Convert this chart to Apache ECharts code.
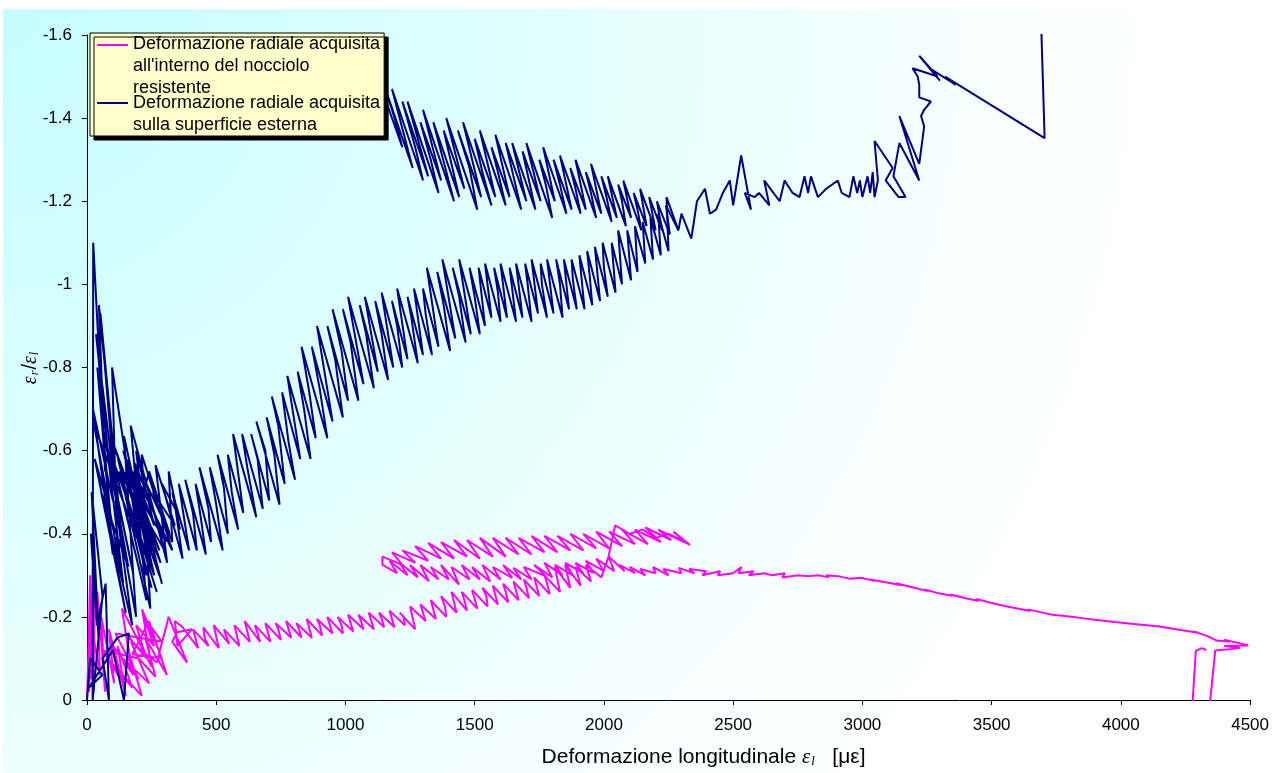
<!DOCTYPE html>
<html>
<head>
<meta charset="utf-8">
<script src="https://cdn.jsdelivr.net/npm/echarts@6/dist/echarts.min.js"></script>
<style>
html, body { margin: 0; padding: 0; background: #fff; }
#main { width: 1272px; height: 773px; }
</style>
</head>
<body>
<div id="main"></div>
<script>
// deformazione radiale interna (magenta)
const magentaStart = [
    [0, 0], [5, -0.10], [12, -0.30], [8, -0.02], [23, -0.325], [15, -0.05], [30, -0.28], [25, -0.02],
    [18, -0.18], [50, -0.06], [40, -0.26], [70, -0.02], [55, -0.20], [105, -0.04], [85, -0.17],
    [150, -0.01], [118, -0.13], [175, -0.03], [95, -0.09], [212, -0.01], [160, -0.12], [135, -0.22],
    [250, -0.08], [213, -0.218], [290, -0.10], [175, -0.11], [240, -0.19], [309, -0.06], [225, -0.15],
    [265, -0.056], [200, -0.10], [60, -0.12], [130, -0.05], [90, -0.14], [180, -0.06], [150, -0.16],
    [230, -0.10], [190, -0.18], [260, -0.13], [220, -0.20], [290, -0.14], [110, -0.16], [200, -0.05],
    [140, -0.10], [240, -0.04], [170, -0.14], [270, -0.09], [316, -0.20], [387, -0.09], [330, -0.14],
    [348, -0.163], [406, -0.17], [350, -0.13], [340, -0.19]
];
const magentaLow = [
    [370, -0.175], [430, -0.125], [410, -0.17], [470, -0.13], [455, -0.15], [450, -0.175], [510, -0.125],
    [490, -0.18], [550, -0.135], [535, -0.16], [530, -0.17], [590, -0.13], [570, -0.18], [630, -0.14],
    [610, -0.19], [670, -0.14], [660, -0.16], [650, -0.18], [710, -0.14], [690, -0.185], [750, -0.145],
    [740, -0.17], [730, -0.185], [790, -0.15], [770, -0.19], [830, -0.15], [820, -0.17], [810, -0.185],
    [870, -0.15], [850, -0.195], [910, -0.155], [900, -0.18], [890, -0.195], [950, -0.16], [930, -0.20],
    [990, -0.16], [985, -0.18], [970, -0.20], [1030, -0.165], [1010, -0.205], [1070, -0.17],
    [1060, -0.19], [1050, -0.205], [1110, -0.17], [1090, -0.21], [1150, -0.175], [1140, -0.195],
    [1130, -0.21], [1190, -0.175], [1170, -0.215], [1230, -0.18], [1225, -0.20], [1210, -0.21],
    [1270, -0.17], [1250, -0.225], [1310, -0.19], [1300, -0.21], [1290, -0.23], [1350, -0.195],
    [1330, -0.24], [1390, -0.20], [1385, -0.225], [1370, -0.25], [1430, -0.21], [1410, -0.26],
    [1470, -0.215], [1460, -0.24], [1450, -0.26], [1510, -0.22], [1490, -0.265], [1550, -0.225],
    [1545, -0.25], [1530, -0.27], [1590, -0.23], [1570, -0.275], [1630, -0.235], [1620, -0.26],
    [1610, -0.28], [1670, -0.24], [1650, -0.285], [1710, -0.245], [1700, -0.27], [1690, -0.29],
    [1750, -0.25], [1730, -0.295], [1790, -0.255], [1780, -0.28], [1770, -0.30], [1830, -0.26],
    [1810, -0.32], [1870, -0.27], [1850, -0.325], [1910, -0.275], [1890, -0.32], [1950, -0.285],
    [1930, -0.325], [1990, -0.295]
];
const magentaTop = [
    [2018, -0.345], [2043, -0.42], [2100, -0.40], [2150, -0.41], [2200, -0.39], [2250, -0.40],
    [2333, -0.373], [2270, -0.405], [2310, -0.38], [2210, -0.41], [2260, -0.385], [2160, -0.415],
    [2220, -0.38], [2120, -0.41], [2170, -0.375], [2070, -0.41], [2120, -0.375], [2020, -0.405],
    [2070, -0.37], [1970, -0.405], [2020, -0.365], [1920, -0.40], [1970, -0.365], [1870, -0.40],
    [1920, -0.36], [1820, -0.395], [1870, -0.36], [1770, -0.395], [1820, -0.355], [1720, -0.395],
    [1770, -0.355], [1670, -0.39], [1720, -0.35], [1620, -0.39], [1670, -0.35], [1570, -0.39],
    [1620, -0.345], [1520, -0.39], [1570, -0.345], [1470, -0.385], [1520, -0.34], [1420, -0.385],
    [1470, -0.345], [1370, -0.38], [1420, -0.34], [1320, -0.378], [1370, -0.34], [1270, -0.37],
    [1320, -0.335], [1220, -0.36], [1270, -0.33], [1180, -0.355], [1220, -0.325], [1143, -0.345]
];
const magentaMid = [
    [1143, -0.325], [1200, -0.305], [1170, -0.335], [1240, -0.30], [1210, -0.33], [1280, -0.295],
    [1250, -0.325], [1323, -0.286], [1290, -0.325], [1360, -0.29], [1330, -0.32], [1400, -0.29],
    [1370, -0.325], [1439, -0.278], [1410, -0.32], [1480, -0.29], [1450, -0.325], [1520, -0.29],
    [1490, -0.32], [1560, -0.285], [1530, -0.325], [1600, -0.29], [1570, -0.32], [1645, -0.294],
    [1610, -0.325], [1680, -0.29], [1650, -0.318], [1720, -0.29], [1690, -0.32], [1774, -0.298],
    [1730, -0.325], [1800, -0.295], [1770, -0.33], [1840, -0.30], [1810, -0.325], [1880, -0.30],
    [1850, -0.33], [1920, -0.305], [1890, -0.33], [1960, -0.305], [1930, -0.335], [2000, -0.31],
    [1970, -0.34], [2040, -0.31], [2018, -0.345], [2080, -0.31], [2060, -0.325], [2120, -0.305],
    [2100, -0.32], [2160, -0.30], [2140, -0.315], [2200, -0.305], [2190, -0.32], [2250, -0.30],
    [2230, -0.315], [2300, -0.305], [2290, -0.318], [2350, -0.305], [2330, -0.315], [2396, -0.31],
    [2380, -0.30], [2450, -0.31], [2440, -0.30], [2500, -0.305], [2532, -0.32], [2520, -0.305],
    [2580, -0.31], [2560, -0.30], [2620, -0.305], [2650, -0.30], [2700, -0.305], [2690, -0.295],
    [2750, -0.30], [2790, -0.298], [2828, -0.30], [2870, -0.295], [2860, -0.30], [2905, -0.298],
    [2950, -0.292], [2995, -0.294], [3050, -0.286], [3030, -0.29], [3100, -0.282], [3150, -0.276],
    [3130, -0.281], [3200, -0.27], [3252, -0.262], [3240, -0.266], [3300, -0.256], [3350, -0.25],
    [3340, -0.254], [3400, -0.245], [3450, -0.238], [3440, -0.243], [3497, -0.234], [3550, -0.226],
    [3600, -0.22], [3650, -0.214], [3640, -0.218], [3728, -0.206], [3800, -0.201], [3850, -0.197],
    [3900, -0.193], [3985, -0.187], [4050, -0.183], [4100, -0.18], [4150, -0.177], [4243, -0.167],
    [4300, -0.162], [4280, -0.165], [4330, -0.155], [4371, -0.143], [4420, -0.14], [4400, -0.145],
    [4470, -0.135], [4493, -0.131], [4400, -0.13], [4460, -0.125], [4435, -0.123], [4365, -0.119],
    [4341, 0.03], [4275, 0.03], [4290, -0.118], [4313, -0.125], [4330, -0.12]
];

// deformazione radiale superficie esterna (blu)
const navyStart = [
    [0, 0], [12, -0.10], [60, -0.06], [8, -0.03], [100, -0.12], [143, 0], [162, -0.16], [118, -0.15],
    [60, -0.10], [85, 0], [72, -0.28], [38, -0.18], [15, -0.40], [45, -0.15], [18, -0.50], [60, -0.25],
    [22, 0], [24, -1.10], [70, -0.55], [46, -0.95], [130, -0.42], [52, -0.93], [110, -0.50],
    [35, -0.88], [100, -0.48], [23, -0.70], [100, -0.35], [40, -0.80], [90, -0.45], [30, -0.58],
    [120, -0.30], [97, -0.80], [200, -0.38], [28, -0.66], [140, -0.28], [75, -0.62], [180, -0.30],
    [60, -0.66], [160, -0.32], [55, -0.50], [150, -0.21], [80, -0.44], [175, -0.18], [110, -0.48],
    [190, -0.20], [143, -0.635], [260, -0.30], [105, -0.57], [230, -0.24], [169, -0.66], [300, -0.36],
    [125, -0.55], [270, -0.26], [150, -0.50], [250, -0.27], [135, -0.53], [245, -0.22], [212, -0.59],
    [330, -0.36], [180, -0.55], [290, -0.28], [160, -0.58], [240, -0.33], [190, -0.60], [260, -0.42],
    [200, -0.52], [280, -0.30], [120, -0.58], [230, -0.30], [175, -0.50], [285, -0.33], [140, -0.60],
    [250, -0.35], [185, -0.57], [305, -0.38], [210, -0.48], [280, -0.36], [150, -0.55], [220, -0.40],
    [100, -0.62], [200, -0.45], [240, -0.55], [320, -0.40], [230, -0.52], [310, -0.33],
    [265, -0.565], [340, -0.42], [255, -0.50], [330, -0.38], [316, -0.55], [350, -0.45]
];
const navyRise = [
    [290, -0.52], [370, -0.34], [340, -0.47], [360, -0.41], [330, -0.50], [395, -0.36], [355, -0.52],
    [425, -0.36], [410, -0.45], [380, -0.53], [460, -0.35], [440, -0.44], [420, -0.52], [480, -0.38],
    [470, -0.46], [435, -0.56], [525, -0.36], [500, -0.47], [475, -0.56], [545, -0.40], [530, -0.51],
    [505, -0.59], [585, -0.41], [560, -0.50], [545, -0.59], [605, -0.45], [565, -0.64], [655, -0.44],
    [620, -0.56], [600, -0.64], [680, -0.46], [660, -0.58], [635, -0.64], [705, -0.48], [690, -0.60],
    [655, -0.67], [745, -0.47], [725, -0.59], [695, -0.68], [765, -0.52], [740, -0.66], [715, -0.73],
    [805, -0.53], [780, -0.62], [755, -0.74], [825, -0.58], [775, -0.78], [865, -0.58], [840, -0.70],
    [815, -0.79], [885, -0.63], [860, -0.74], [830, -0.85], [930, -0.63], [900, -0.75], [870, -0.85],
    [950, -0.67], [890, -0.90], [990, -0.68], [960, -0.82], [930, -0.90], [1010, -0.72], [985, -0.84],
    [950, -0.94], [1050, -0.72], [1020, -0.86], [990, -0.94], [1070, -0.76], [1010, -0.97],
    [1110, -0.75], [1080, -0.88], [1055, -0.95], [1125, -0.79], [1075, -0.97], [1165, -0.77],
    [1140, -0.88], [1115, -0.96], [1185, -0.80], [1140, -0.98], [1220, -0.80], [1200, -0.90],
    [1180, -0.96], [1240, -0.82], [1200, -0.99], [1280, -0.81], [1255, -0.92], [1240, -0.97],
    [1300, -0.83], [1265, -0.99], [1335, -0.83], [1310, -0.93], [1300, -0.99], [1360, -0.85],
    [1315, -1.04], [1405, -0.84], [1380, -0.95], [1355, -1.03], [1425, -0.87], [1375, -1.06],
    [1465, -0.86], [1440, -0.97], [1415, -1.04], [1485, -0.88], [1440, -1.06], [1520, -0.88],
    [1500, -0.97], [1480, -1.04], [1540, -0.90], [1515, -1.04], [1565, -0.92], [1540, -1.05],
    [1600, -0.91], [1590, -0.98], [1575, -1.04], [1625, -0.92], [1600, -1.05], [1660, -0.91],
    [1645, -0.99], [1635, -1.04], [1685, -0.92], [1660, -1.05], [1720, -0.91], [1705, -1.00],
    [1695, -1.05], [1745, -0.93], [1720, -1.06], [1780, -0.92], [1760, -1.00], [1755, -1.05],
    [1805, -0.93], [1780, -1.06], [1840, -0.92], [1830, -1.00], [1815, -1.06], [1865, -0.94],
    [1845, -1.06], [1895, -0.94], [1880, -1.01], [1875, -1.06], [1925, -0.94], [1905, -1.07],
    [1955, -0.95], [1945, -1.02], [1935, -1.08], [1985, -0.96], [1965, -1.09], [2015, -0.97],
    [2000, -1.04], [1995, -1.10], [2045, -0.98], [2030, -1.10], [2070, -1.00], [2055, -1.13],
    [2105, -1.01], [2090, -1.13], [2130, -1.03], [2120, -1.14], [2160, -1.05], [2150, -1.15],
    [2190, -1.06], [2180, -1.16], [2220, -1.07], [2210, -1.17], [2250, -1.08]
];
const navyTail = [
    [2242, -1.21], [2288, -1.13], [2300, -1.17], [2338, -1.11], [2360, -1.20], [2391, -1.23],
    [2410, -1.17], [2434, -1.18], [2460, -1.22], [2487, -1.25], [2500, -1.19], [2531, -1.31],
    [2569, -1.18], [2545, -1.22], [2583, -1.21], [2600, -1.22], [2640, -1.19], [2620, -1.25],
    [2680, -1.20], [2699, -1.25], [2730, -1.22], [2757, -1.21], [2776, -1.26], [2790, -1.22],
    [2801, -1.26], [2828, -1.21], [2860, -1.23], [2905, -1.25], [2920, -1.22], [2950, -1.21],
    [2965, -1.26], [2980, -1.22], [2990, -1.25], [3000, -1.21], [3008, -1.23], [3020, -1.26],
    [3030, -1.22], [3040, -1.27], [3047, -1.21], [3060, -1.25], [3047, -1.345], [3117, -1.28],
    [3090, -1.25], [3140, -1.21], [3167, -1.21], [3120, -1.26], [3143, -1.34], [3220, -1.25],
    [3143, -1.405], [3220, -1.29], [3239, -1.38], [3227, -1.405], [3239, -1.42], [3265, -1.44],
    [3220, -1.45], [3220, -1.48], [3214, -1.50], [3194, -1.52], [3291, -1.50], [3220, -1.55],
    [3300, -1.49], [3260, -1.52], [3362, -1.48], [3320, -1.50], [3705, -1.352], [3692, -1.62]
];
const navyUpper = [
    [1090, -1.56], [1140, -1.47], [1220, -1.33], [1190, -1.40], [1160, -1.46], [1260, -1.28],
    [1180, -1.47], [1300, -1.25], [1270, -1.33], [1220, -1.44], [1320, -1.26], [1240, -1.44],
    [1360, -1.22], [1330, -1.30], [1290, -1.39], [1370, -1.25], [1300, -1.42], [1420, -1.20],
    [1340, -1.39], [1440, -1.21], [1410, -1.29], [1380, -1.37], [1460, -1.23], [1390, -1.40],
    [1510, -1.18], [1480, -1.28], [1435, -1.37], [1525, -1.21], [1455, -1.39], [1565, -1.19],
    [1530, -1.27], [1500, -1.35], [1580, -1.21], [1520, -1.37], [1620, -1.19], [1590, -1.27],
    [1565, -1.33], [1635, -1.21], [1580, -1.36], [1680, -1.18], [1650, -1.26], [1620, -1.34],
    [1700, -1.20], [1645, -1.34], [1735, -1.18], [1710, -1.25], [1685, -1.32], [1755, -1.20],
    [1700, -1.34], [1800, -1.16], [1775, -1.24], [1750, -1.30], [1810, -1.20], [1765, -1.33],
    [1855, -1.17], [1830, -1.24], [1805, -1.30], [1875, -1.18], [1830, -1.31], [1910, -1.17],
    [1890, -1.23], [1870, -1.28], [1930, -1.18], [1890, -1.30], [1970, -1.16], [1950, -1.22],
    [1930, -1.27], [1990, -1.17], [1950, -1.29], [2030, -1.15], [2010, -1.21], [1990, -1.26],
    [2050, -1.16], [2015, -1.26], [2085, -1.14], [2070, -1.20], [2055, -1.24], [2105, -1.16],
    [2075, -1.25], [2145, -1.13], [2130, -1.18], [2115, -1.22], [2165, -1.14], [2140, -1.23],
    [2200, -1.13], [2175, -1.21], [2225, -1.13], [2205, -1.20], [2255, -1.12], [2240, -1.19],
    [2288, -1.13]
];

const nameInner = "Deformazione radiale acquisita\nall'interno del nocciolo\nresistente";
const nameOuter = 'Deformazione radiale acquisita\nsulla superficie esterna';

let myChart = echarts.init(document.getElementById('main'));

const serif = { fontFamily: 'Liberation Serif', fontStyle: 'italic', color: '#000' };

myChart.setOption({
    animation: false,
    graphic: [{
        type: 'rect',
        z: -10,
        silent: true,
        shape: { x: 3, y: 9, width: 1269, height: 764 },
        style: {
            fill: new echarts.graphic.RadialGradient(3, 9, 1150, [
                { offset: 0, color: '#c6fcff' },
                { offset: 0.35, color: '#d9ffff' },
                { offset: 0.75, color: '#f3ffff' },
                { offset: 1, color: '#ffffff' }
            ], true)
        }
    }],
    grid: { left: 87, right: 19, top: 35, bottom: 66 },
    legend: {
        orient: 'vertical',
        left: 90,
        top: 33,
        backgroundColor: '#ffffcc',
        borderColor: '#000',
        borderWidth: 1,
        shadowColor: '#000',
        shadowOffsetX: 4,
        shadowOffsetY: 4,
        shadowBlur: 0,
        padding: [0, 4, 0, 7],
        itemGap: -7,
        itemWidth: 31,
        itemHeight: 44,
        itemStyle: { borderWidth: 0 },
        textStyle: { fontFamily: 'Liberation Sans', fontSize: 18, lineHeight: 22, color: '#000' },
        data: [
            { name: nameInner, icon: 'path://M0,0H31V2H0Z M0,43.99H0.01V44H0Z' },
            { name: nameOuter, icon: 'path://M0,0H0.01V0.01H0Z M0,10H31V12H0Z M0,43.99H0.01V44H0Z' }
        ]
    },
    xAxis: {
        type: 'value',
        min: 0,
        max: 4500,
        interval: 500,
        name: 'Deformazione longitudinale {g|ε}{s|l}   [με]',
        nameLocation: 'middle',
        nameGap: 46,
        nameMoveOverlap: false,
        nameTextStyle: {
            fontFamily: 'Liberation Sans', fontSize: 21, color: '#000', padding: [0, 0, 0, 70],
            rich: {
                g: Object.assign({ fontSize: 21 }, serif),
                s: Object.assign({ fontSize: 13, padding: [9, 0, 0, 1] }, serif)
            }
        },
        axisLine: { lineStyle: { color: '#000', width: 1 } },
        axisTick: { length: 5, lineStyle: { color: '#000' } },
        axisLabel: {
            margin: 17, fontFamily: 'Liberation Sans', fontSize: 17, color: '#000',
            formatter: function (v) { return String(v); }
        },
        splitLine: { show: false }
    },
    yAxis: {
        type: 'value',
        inverse: true,
        min: -1.6,
        max: 0,
        interval: 0.2,
        name: '{g|ε}{s|r}{n|/}{g|ε}{s|l}',
        nameLocation: 'middle',
        nameGap: 46,
        nameMoveOverlap: false,
        nameTextStyle: {
            rich: {
                g: Object.assign({ fontSize: 20 }, serif),
                n: { fontFamily: 'Liberation Sans', fontSize: 20, color: '#000' },
                s: Object.assign({ fontSize: 12, padding: [9, 1, 0, 1] }, serif)
            }
        },
        axisLine: { show: true, lineStyle: { color: '#000', width: 1 } },
        axisTick: { show: true, length: 5, lineStyle: { color: '#000' } },
        axisLabel: { margin: 15, fontFamily: 'Liberation Sans', fontSize: 17, color: '#000' },
        splitLine: { show: false }
    },
    series: [
        {
            name: nameInner,
            type: 'line',
            showSymbol: false,
            symbol: 'none',
            color: '#ff00ff',
            lineStyle: { color: '#ff00ff', width: 2 },
            data: magentaStart.concat(magentaLow, magentaTop, magentaMid)
        },
        {
            name: nameOuter,
            type: 'line',
            showSymbol: false,
            symbol: 'none',
            color: '#000080',
            lineStyle: { color: '#000080', width: 2 },
            data: navyStart.concat(navyRise, navyTail)
        },
        {
            name: nameOuter,
            type: 'line',
            showSymbol: false,
            symbol: 'none',
            color: '#000080',
            lineStyle: { color: '#000080', width: 2 },
            data: navyUpper
        }
    ]
});
window.addEventListener('resize', function () {
    myChart.resize();
});
</script>
</body>
</html>
